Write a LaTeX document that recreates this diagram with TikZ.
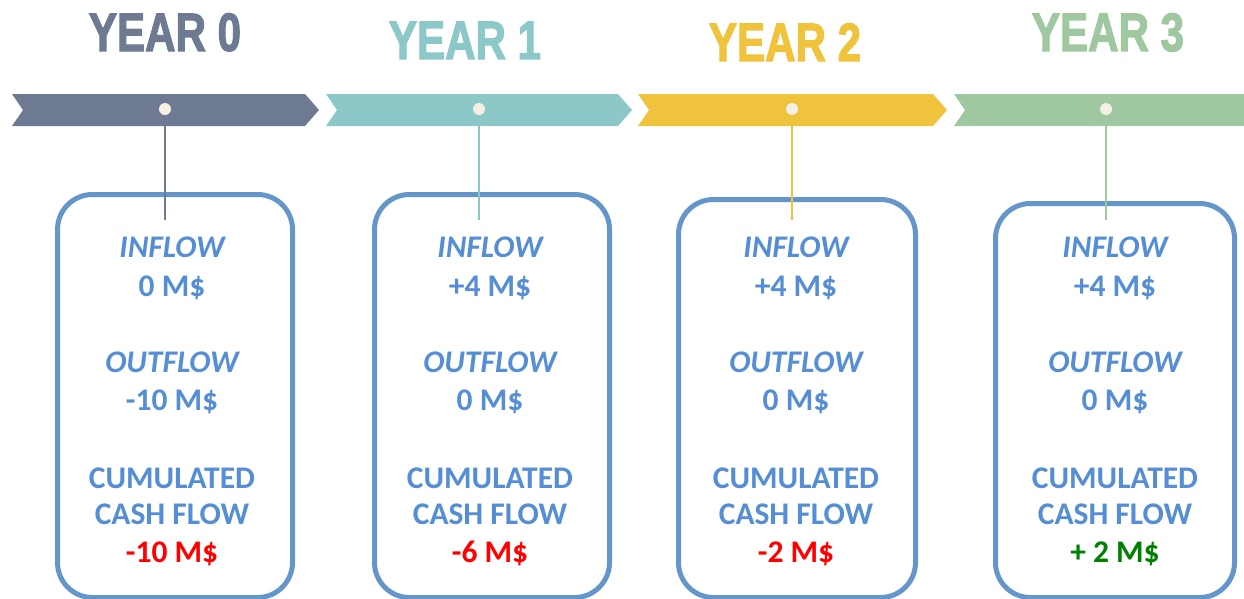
\documentclass[tikz,border=0pt]{standalone}
\usepackage{fontspec}
\setmainfont{Carlito}
\newfontfamily\titlefont[FakeBold=2.5]{Liberation Sans}
\definecolor{cslate}{RGB}{110,122,145}
\definecolor{cteal}{RGB}{140,200,200}
\definecolor{cyellow}{RGB}{240,195,60}
\definecolor{cgreen}{RGB}{160,200,160}
\definecolor{cdot}{RGB}{246,240,228}
\definecolor{boxblue}{RGB}{100,150,202}
\definecolor{txtblue}{RGB}{85,142,213}
\definecolor{negred}{RGB}{255,0,0}
\definecolor{posgreen}{RGB}{0,128,0}
\begin{document}
\begin{tikzpicture}[x=1pt,y=-1pt,
  yeartitle/.style={anchor=base,inner sep=0pt,font=\titlefont\fontsize{54}{54}\selectfont\bfseries},
  dotmark/.style={circle,fill=cdot,draw=none,minimum size=12pt,inner sep=0pt},
  stem/.style={line width=2pt},
  boxframe/.style={draw=boxblue,line width=5pt,rounded corners=35pt,anchor=north west,inner sep=0pt},
  lab/.style={anchor=base,inner sep=0pt,text=txtblue,font=\fontsize{31.5}{31.5}\selectfont\bfseries\itshape},
  val/.style={anchor=base,inner sep=0pt,text=txtblue,font=\fontsize{31.5}{31.5}\selectfont\bfseries},
  res/.style={anchor=base,inner sep=0pt,font=\fontsize{31.5}{31.5}\selectfont\bfseries}]
\useasboundingbox (0,0) rectangle (1244,598);
\clip (0,0) rectangle (1244,598);

% titles
\node[yeartitle,text=cslate] (t0) at (165,51) {\scalebox{0.78}[1]{YEAR 0}};
\node[yeartitle,text=cteal] (t1) at (465,59) {\scalebox{0.78}[1]{YEAR 1}};
\node[yeartitle,text=cyellow] (t2) at (785,61) {\scalebox{0.78}[1]{YEAR 2}};
\node[yeartitle,text=cgreen] (t3) at (1108,51) {\scalebox{0.78}[1]{YEAR 3}};

% bands
\fill[cslate] (12,94) -- (23,110) -- (12,126) -- (305,126) -- (319,110) -- (305,94) -- cycle;
\fill[cteal] (326,94) -- (337,110) -- (326,126) -- (618,126) -- (632,110) -- (618,94) -- cycle;
\fill[cyellow] (638,94) -- (649,110) -- (638,126) -- (933,126) -- (947,110) -- (933,94) -- cycle;
\fill[cgreen] (954,94) -- (965,110) -- (954,126) -- (1260,126) -- (1260,94) -- cycle;

% boxes
\node[boxframe,minimum width=235pt,minimum height=403pt] (box0) at (55,192) {};
\node[boxframe,minimum width=235pt,minimum height=403pt] (box1) at (372,192) {};
\node[boxframe,minimum width=237pt,minimum height=398pt] (box2) at (676,197) {};
\node[boxframe,minimum width=239pt,minimum height=394pt] (box3) at (993,201) {};

% dots and stems
\node[dotmark] (d0) at (165,109) {};
\node[dotmark] (d1) at (479,109) {};
\node[dotmark] (d2) at (792,109) {};
\node[dotmark] (d3) at (1106,109) {};
\coordinate (e0) at (165,220);
\coordinate (e1) at (479,220);
\coordinate (e2) at (792,220);
\coordinate (e3) at (1106,220);
\draw[stem,cslate] (d0.south) -- (e0);
\draw[stem,cteal] (d1.south) -- (e1);
\draw[stem,cyellow] (d2.south) -- (e2);
\draw[stem,cgreen] (d3.south) -- (e3);

% texts
\foreach \i/\cx/\inv/\outv/\resv/\rescol in {0/172/0 M\$/-10 M\$/-10 M\$/negred, 1/490/+4 M\$/0 M\$/-6 M\$/negred, 2/796/+4 M\$/0 M\$/-2 M\$/negred, 3/1115/+4 M\$/0 M\$/+ 2 M\$/posgreen}{
  \node[lab] (in\i) at (\cx,257) {INFLOW};
  \node[val] (inv\i) at (\cx,296) {\inv};
  \node[lab] (out\i) at (\cx,372) {OUTFLOW};
  \node[val] (outv\i) at (\cx,410) {\outv};
  \node[val] (cum\i) at (\cx,488) {CUMULATED};
  \node[val] (cash\i) at (\cx,524) {CASH FLOW};
  \node[res,text=\rescol] (res\i) at (\cx,562) {\resv};
}
\end{tikzpicture}
\end{document}
